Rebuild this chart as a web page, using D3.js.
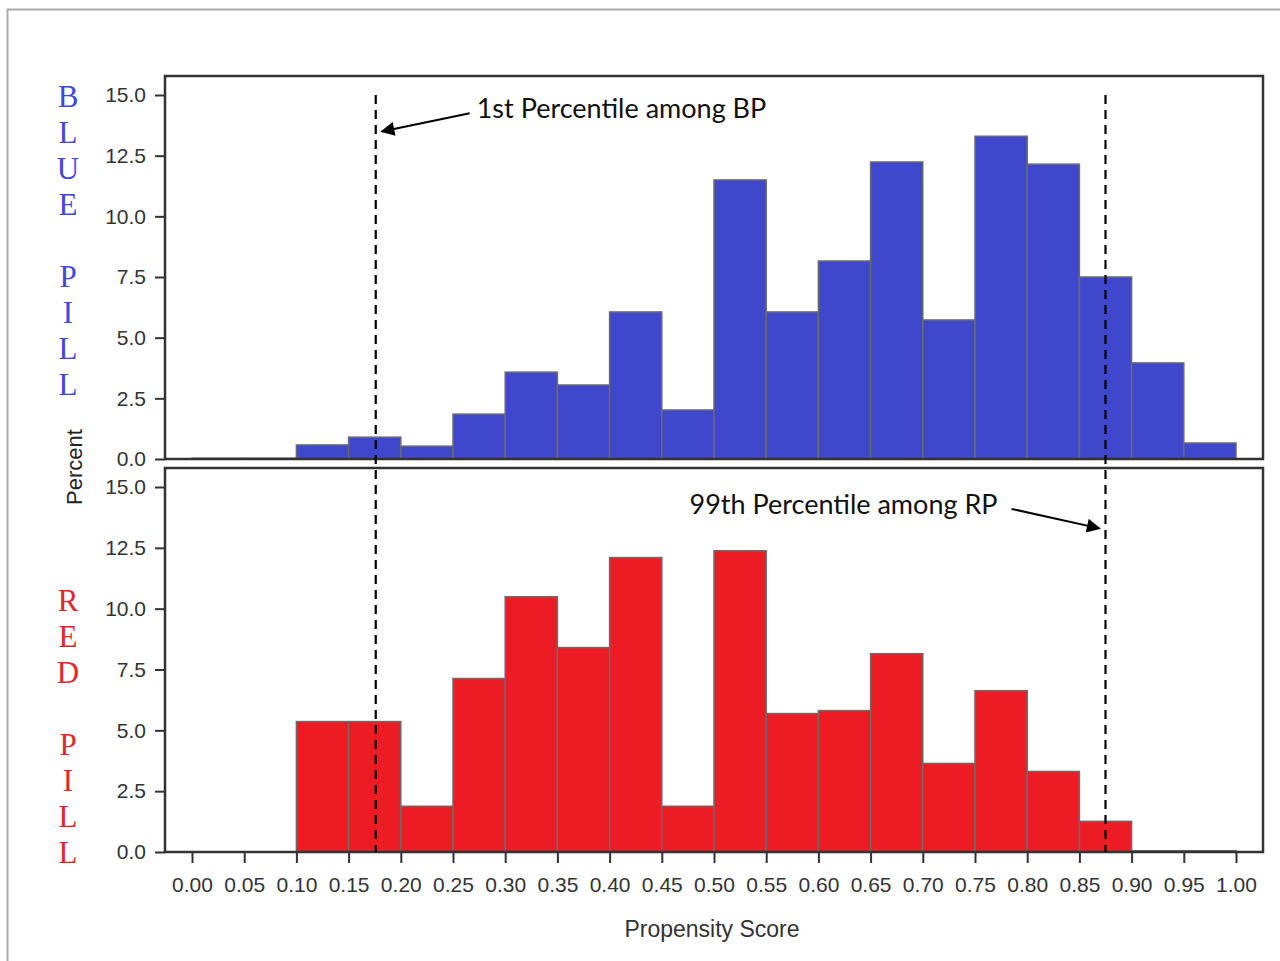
<!DOCTYPE html>
<html>
<head>
<meta charset="UTF-8">
<title>Propensity Score Histograms</title>
<style>
    body { margin: 0; background: #fff; }
    .tick text { font-family: "Liberation Sans", Arial, sans-serif; font-size: 21px; fill: #333; }
    .tick line, .domain { stroke: #333; stroke-width: 2; }
    .note { font-family: Lato, "Open Sans", sans-serif; font-size: 27px; fill: #111; }
</style>
</head>
<body>
<svg id="chart" width="1280" height="961"></svg>
<script src="https://d3js.org/d3.v7.min.js"></script>
<script>
// bins of width 0.05 from 0.00 to 1.00
const binStarts = d3.range(20).map(i => +(i * 0.05).toFixed(2));
const bluePill = [0.03, 0.03, 0.58, 0.9, 0.53, 1.85, 3.58, 3.05, 6.06, 2.02,
                  11.5, 6.06, 8.16, 12.24, 5.73, 13.3, 12.15, 7.5, 3.96, 0.66];
const redPill  = [0, 0, 5.36, 5.36, 1.88, 7.13, 10.49, 8.4, 12.1, 1.88,
                  12.38, 5.69, 5.81, 8.15, 3.64, 6.63, 3.31, 1.26, 0.05, 0.05];
const yTicks = [0, 2.5, 5, 7.5, 10, 12.5, 15];
const xTicks = d3.range(21).map(i => +(i * 0.05).toFixed(2));
const pct1 = 0.176;   // 1st percentile among BP
const pct99 = 0.875;  // 99th percentile among RP

const svg = d3.select("#chart");

// outer frame
svg.append("rect")
    .attr("x", 7.5).attr("y", 9.5)
    .attr("width", 1400).attr("height", 1100)
    .attr("fill", "none").attr("stroke", "#aaa").attr("stroke-width", 2);

const x = d3.scaleLinear().domain([0, 1]).range([192, 1236]);
const yTop = d3.scaleLinear().domain([0, 15]).range([459, 95]);
const yBot = d3.scaleLinear().domain([0, 15]).range([852, 487]);

function panel(y, vals, color, boxTop) {
    const g = svg.append("g");
    g.selectAll("rect.bar")
        .data(vals)
        .enter().append("rect")
        .attr("class", "bar")
        .attr("x", (d, i) => x(binStarts[i]))
        .attr("width", x(0.05) - x(0))
        .attr("y", d => y(d))
        .attr("height", d => y(0) - y(d))
        .attr("fill", color)
        .attr("stroke", "#6b6b6b")
        .attr("stroke-width", 1.5);

    // panel box
    g.append("rect")
        .attr("x", 165).attr("y", boxTop)
        .attr("width", 1263 - 165).attr("height", y(0) - boxTop)
        .attr("fill", "none").attr("stroke", "#333").attr("stroke-width", 2.5);

    const ax = g.append("g")
        .attr("transform", "translate(165,0)")
        .call(d3.axisLeft(y).tickValues(yTicks).tickFormat(d3.format(".1f")).tickSize(10).tickPadding(9));
    ax.select(".domain").remove();
}

panel(yTop, bluePill, "#3f48cc", 76);
panel(yBot, redPill, "#ed1c24", 468);

// x axis
const xa = svg.append("g")
    .attr("transform", "translate(0,852)")
    .call(d3.axisBottom(x).tickValues(xTicks).tickFormat(d3.format(".2f")).tickSize(11).tickPadding(14));
xa.select(".domain").remove();

svg.append("text")
    .attr("x", 712).attr("y", 937)
    .attr("text-anchor", "middle")
    .attr("font-family", "Liberation Sans, Arial, sans-serif")
    .attr("font-size", 23).attr("fill", "#333")
    .text("Propensity Score");

svg.append("text")
    .attr("transform", "translate(82,467) rotate(-90)")
    .attr("text-anchor", "middle")
    .attr("font-family", "Liberation Sans, Arial, sans-serif")
    .attr("font-size", 22).attr("fill", "#222")
    .text("Percent");

// vertical group labels
function stacked(word, y0, color) {
    svg.append("g").selectAll("text")
        .data(word.split(""))
        .enter().append("text")
        .attr("x", 68).attr("y", (d, i) => y0 + i * 36)
        .attr("text-anchor", "middle")
        .attr("font-family", "Liberation Serif, Times New Roman, serif")
        .attr("font-size", 31).attr("fill", color)
        .text(d => d);
}
stacked("BLUE PILL", 107, "#4646dc");
stacked("RED PILL", 611, "#e3262b");

// percentile lines
svg.append("g").selectAll("line")
    .data([pct1, pct99])
    .enter().append("line")
    .attr("x1", d => x(d)).attr("x2", d => x(d))
    .attr("y1", yTop(15)).attr("y2", yBot(0))
    .attr("stroke", "#000").attr("stroke-width", 2.2)
    .attr("stroke-dasharray", "9,6");

// arrows
svg.append("defs").append("marker")
    .attr("id", "head")
    .attr("viewBox", "0 0 10 10")
    .attr("refX", 9).attr("refY", 5)
    .attr("markerWidth", 8).attr("markerHeight", 7)
    .attr("orient", "auto")
    .append("path").attr("d", "M0,0L10,5L0,10z").attr("fill", "#000");

const notes = [
    { text: "1st Percentile among BP", tail: [0.266, yTop(14.25)], tip: [pct1, yTop(13.5)], dx: 6, anchor: "start", tx: 7 },
    { text: "99th Percentile among RP", tail: [0.785, yBot(14.1)], tip: [pct99, yBot(13.3)], dx: -6, anchor: "end", tx: -14 }
];

notes.forEach(n => {
    svg.append("line")
        .attr("x1", x(n.tail[0])).attr("y1", n.tail[1])
        .attr("x2", x(n.tip[0]) + n.dx).attr("y2", n.tip[1])
        .attr("stroke", "#000").attr("stroke-width", 2)
        .attr("marker-end", "url(#head)");
    svg.append("text")
        .attr("class", "note")
        .attr("x", x(n.tail[0]) + n.tx).attr("y", n.tail[1] + 5)
        .attr("text-anchor", n.anchor)
        .text(n.text);
});
</script>
</body>
</html>
